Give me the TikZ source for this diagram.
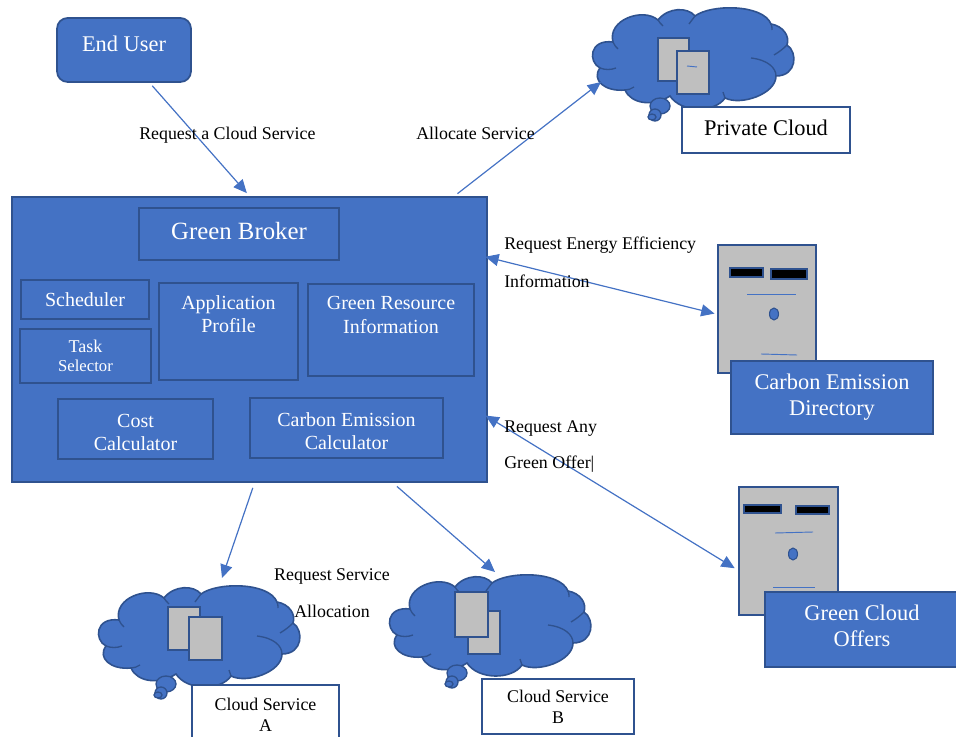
\documentclass[tikz,border=0pt]{standalone}
\usepackage{fontspec}
\setmainfont{Liberation Serif}
\usetikzlibrary{arrows.meta}
\definecolor{cloudblue}{HTML}{4472C4}
\definecolor{edgeblue}{HTML}{2F528F}
\definecolor{paneGray}{HTML}{BFBFBF}
\tikzset{
    boxsize/.style 2 args={minimum width=#1*0.75pt, minimum height=#2*0.75pt},
    bluebox/.style={rectangle, draw=edgeblue, line width=1.3pt, fill=cloudblue, text=white, inner sep=0pt, align=center},
    whitebox/.style={rectangle, draw=edgeblue, line width=1.3pt, fill=white, inner sep=0pt, align=center},
    boxtext/.style={font=\fontsize{15}{17.5}\selectfont},
    bigtext/.style={font=\fontsize{16.8}{19.5}\selectfont},
    linktext/.style={font=\fontsize{13.4}{15.5}\selectfont, inner sep=0pt},
    link/.style={draw=cloudblue, line width=0.9pt, -{Triangle[length=10pt, width=9pt]}},
    twolink/.style={draw=cloudblue, line width=0.9pt, {Triangle[length=10pt, width=9pt]}-{Triangle[length=10pt, width=9pt]}},
    slot/.style={draw=edgeblue, line width=1pt, fill=black},
    pane/.style={draw=edgeblue, line width=1.3pt, fill=paneGray},
    thin mark/.style={draw=cloudblue, line width=0.7pt},
    cloudpic/.pic={
        % Outline of the cloud, then the short strokes between its lobes.
        \filldraw[draw=edgeblue, fill=cloudblue, line width=1.2pt] (7,60)
            .. controls (-5,54) and (-4,31) .. (20,34)
            .. controls (14,12) and (50,-1) .. (65,12)
            .. controls (75,-1) and (95,-1) .. (102,8)
            .. controls (118,-4) and (170,-4) .. (178,16)
            .. controls (190,18) and (197,28) .. (194,37)
            .. controls (205,44) and (204,68) .. (183,68)
            .. controls (183,86) and (148,98) .. (132,90)
            .. controls (122,105) and (88,105) .. (77,88)
            .. controls (60,99) and (38,96) .. (32,82)
            .. controls (12,84) and (-2,72) .. (7,60) -- cycle;
        \draw[edgeblue, line width=1pt] (7,60) .. controls (12,62) and (18,62) .. (23,60);
        \draw[edgeblue, line width=1pt] (20,34) .. controls (21,37) and (23,39) .. (25,41);
        \draw[edgeblue, line width=1pt] (65,12) .. controls (66,14) and (68,16) .. (70,18);
        \draw[edgeblue, line width=1pt] (102,8) .. controls (100,11) and (98,13) .. (96,16);
        \draw[edgeblue, line width=1pt] (178,16) .. controls (179,18) and (179,20) .. (179,22);
        \draw[edgeblue, line width=1pt] (194,37) .. controls (190,41) and (186,44) .. (181,47);
        \draw[edgeblue, line width=1pt] (183,68) .. controls (183,60) and (175,52) .. (158,50);
        \draw[edgeblue, line width=1pt] (132,90) .. controls (131,88) and (131,86) .. (130,84);
        \draw[edgeblue, line width=1pt] (32,82) .. controls (35,82) and (38,81) .. (41,79);
        % The little thought bubbles under the cloud.
        \filldraw[draw=edgeblue, fill=cloudblue, line width=1pt] (67,98) ellipse (10 and 8);
        \filldraw[draw=edgeblue, fill=cloudblue, line width=1pt] (62,107) ellipse (6 and 6);
        \filldraw[draw=edgeblue, fill=cloudblue, line width=1pt] (59,109) ellipse (4 and 3);
    },
}
\begin{document}
\begin{tikzpicture}[x=0.75pt, y=-0.75pt]
    \useasboundingbox (0,0) rectangle (956,737);
    % Draw the clouds, each with its two grey sheets.
    \pic at (593,8) {cloudpic};
    \draw[pane] (658,38) rectangle (689,81);
    \draw[pane] (677,51) rectangle (709,94);
    \draw[thin mark] (687,66) -- (697,67);
    \pic at (99,586) {cloudpic};
    \draw[pane] (168,607) rectangle (200,650);
    \draw[pane] (189,617) rectangle (222,660);
    \pic at (390,575) {cloudpic};
    \draw[pane] (468,611) rectangle (500,654);
    \draw[pane] (455,592) rectangle (488,637);
    \coordinate (privatein) at (601,82);
    \coordinate (cloudain) at (222,578);
    \coordinate (cloudbin) at (495,572);
    % Draw the two directory servers.
    \node[rectangle, draw=edgeblue, line width=1.3pt, fill=paneGray, boxsize={98}{128}] (dirserver) at (767,309) {};
    \draw[slot] (730,268) rectangle (763,277);
    \draw[slot] (771,269) rectangle (807,279);
    \draw[thin mark] (747,294) -- (796,294);
    \filldraw[draw=edgeblue, fill=cloudblue, line width=0.8pt] (774,314) ellipse (4.5 and 6);
    \draw[thin mark] (761,354) -- (797,355);
    \node[rectangle, draw=edgeblue, line width=1.3pt, fill=paneGray, boxsize={99}{128}] (offerserver) at (788.5,551) {};
    \draw[slot] (744,505) rectangle (781,513);
    \draw[slot] (796,506) rectangle (829,514);
    \draw[thin mark] (775,533) -- (813,532);
    \filldraw[draw=edgeblue, fill=cloudblue, line width=0.8pt] (793,554) ellipse (4.5 and 6);
    \draw[thin mark] (773,587) -- (815,587);
    % Draw the end user and the captions of the outer boxes.
    \node[bluebox, bigtext, rounded corners=8pt, boxsize={134}{64}, text depth=10pt] (enduser) at (124,50) {End User};
    \node[whitebox, bigtext, boxsize={168}{46}, text depth=3pt] (privatecloud) at (766,130) {Private Cloud};
    \node[bluebox, bigtext, boxsize={202}{73}] (carbondirectory) at (832,397.5) {Carbon Emission\\Directory};
    \node[bluebox, bigtext, boxsize={194}{75}, text depth=5pt] (greenoffers) at (862,629.5) {Green Cloud\\Offers};
    \node[whitebox, linktext, boxsize={147}{60}] (serviceA) at (265.5,715) {Cloud Service\\A};
    \node[whitebox, linktext, boxsize={152}{55}] (serviceB) at (558,706.5) {Cloud Service\\B};
    % Draw the broker and its inner boxes.
    \node[bluebox, boxsize={475}{285}] (broker) at (249.5,339.5) {};
    \node[bluebox, font=\fontsize{18.6}{21}\selectfont, boxsize={200}{52}, text depth=5pt] (greenbroker) at (239,234) {Green Broker};
    \node[bluebox, boxtext, boxsize={128}{39}] (scheduler) at (85,299.5) {Scheduler};
    \node[bluebox, boxsize={131}{54}] (taskselector) at (85.5,356) {\fontsize{13.5}{20}\selectfont Task\\[2.5pt]\fontsize{12.5}{15}\selectfont Selector};
    \node[bluebox, boxsize={139}{97}] (appprofile) at (228.5,331.5) {};
    \node[boxtext, text=white, align=center, inner sep=0pt, anchor=north] (appprofiletext) at ([yshift=-10pt]appprofile.north) {Application\\Profile};
    \node[bluebox, boxsize={166}{92}] (resourceinfo) at (391,330) {};
    \node[boxtext, text=white, align=center, inner sep=0pt, anchor=north] (resourceinfotext) at ([yshift=-10pt]resourceinfo.north) {Green Resource\\Information};
    \node[bluebox, boxtext, boxsize={155}{60}] (costcalc) at (135.5,429) {\rule{0pt}{15pt}Cost\\Calculator};
    \node[bluebox, boxtext, boxsize={193}{60}] (carboncalc) at (346.5,428) {\rule{0pt}{15pt}Carbon Emission\\Calculator};
    % Draw the links between the broker and the rest.
    \draw[link, shorten <=3pt, shorten >=3pt] (enduser.-52) -- (broker.90.3);
    \draw[link, shorten <=3pt] (broker.35.2) -- (privatein);
    \draw[twolink, shorten <=-2pt, shorten >=2pt] (broker.19.5) -- (dirserver.186);
    \draw[twolink, shorten <=-2pt, shorten >=3pt] (broker.-18.4) -- (offerserver.201);
    \draw[link, shorten <=4pt] (broker.-88.4) -- (cloudain);
    \draw[link, shorten <=4pt] (broker.-45.3) -- (cloudbin);
    % Draw the link captions.
    \node[linktext, anchor=west] (requestservice) at (139,135) {Request a Cloud Service};
    \node[linktext, anchor=west] (allocateservice) at (416,133) {Allocate Service};
    \node[linktext, anchor=north west, align=left] (requestenergy) at (504,237) {Request Energy Efficiency\\[12.5pt]Information};
    \node[linktext, anchor=north west, align=left] (requestoffer) at (504,420) {Request Any\\[12pt]Green Offer|};
    \node[linktext, anchor=north, align=center] (requestallocation) at (332,568) {Request Service\\[12.5pt]Allocation};
\end{tikzpicture}
\end{document}
